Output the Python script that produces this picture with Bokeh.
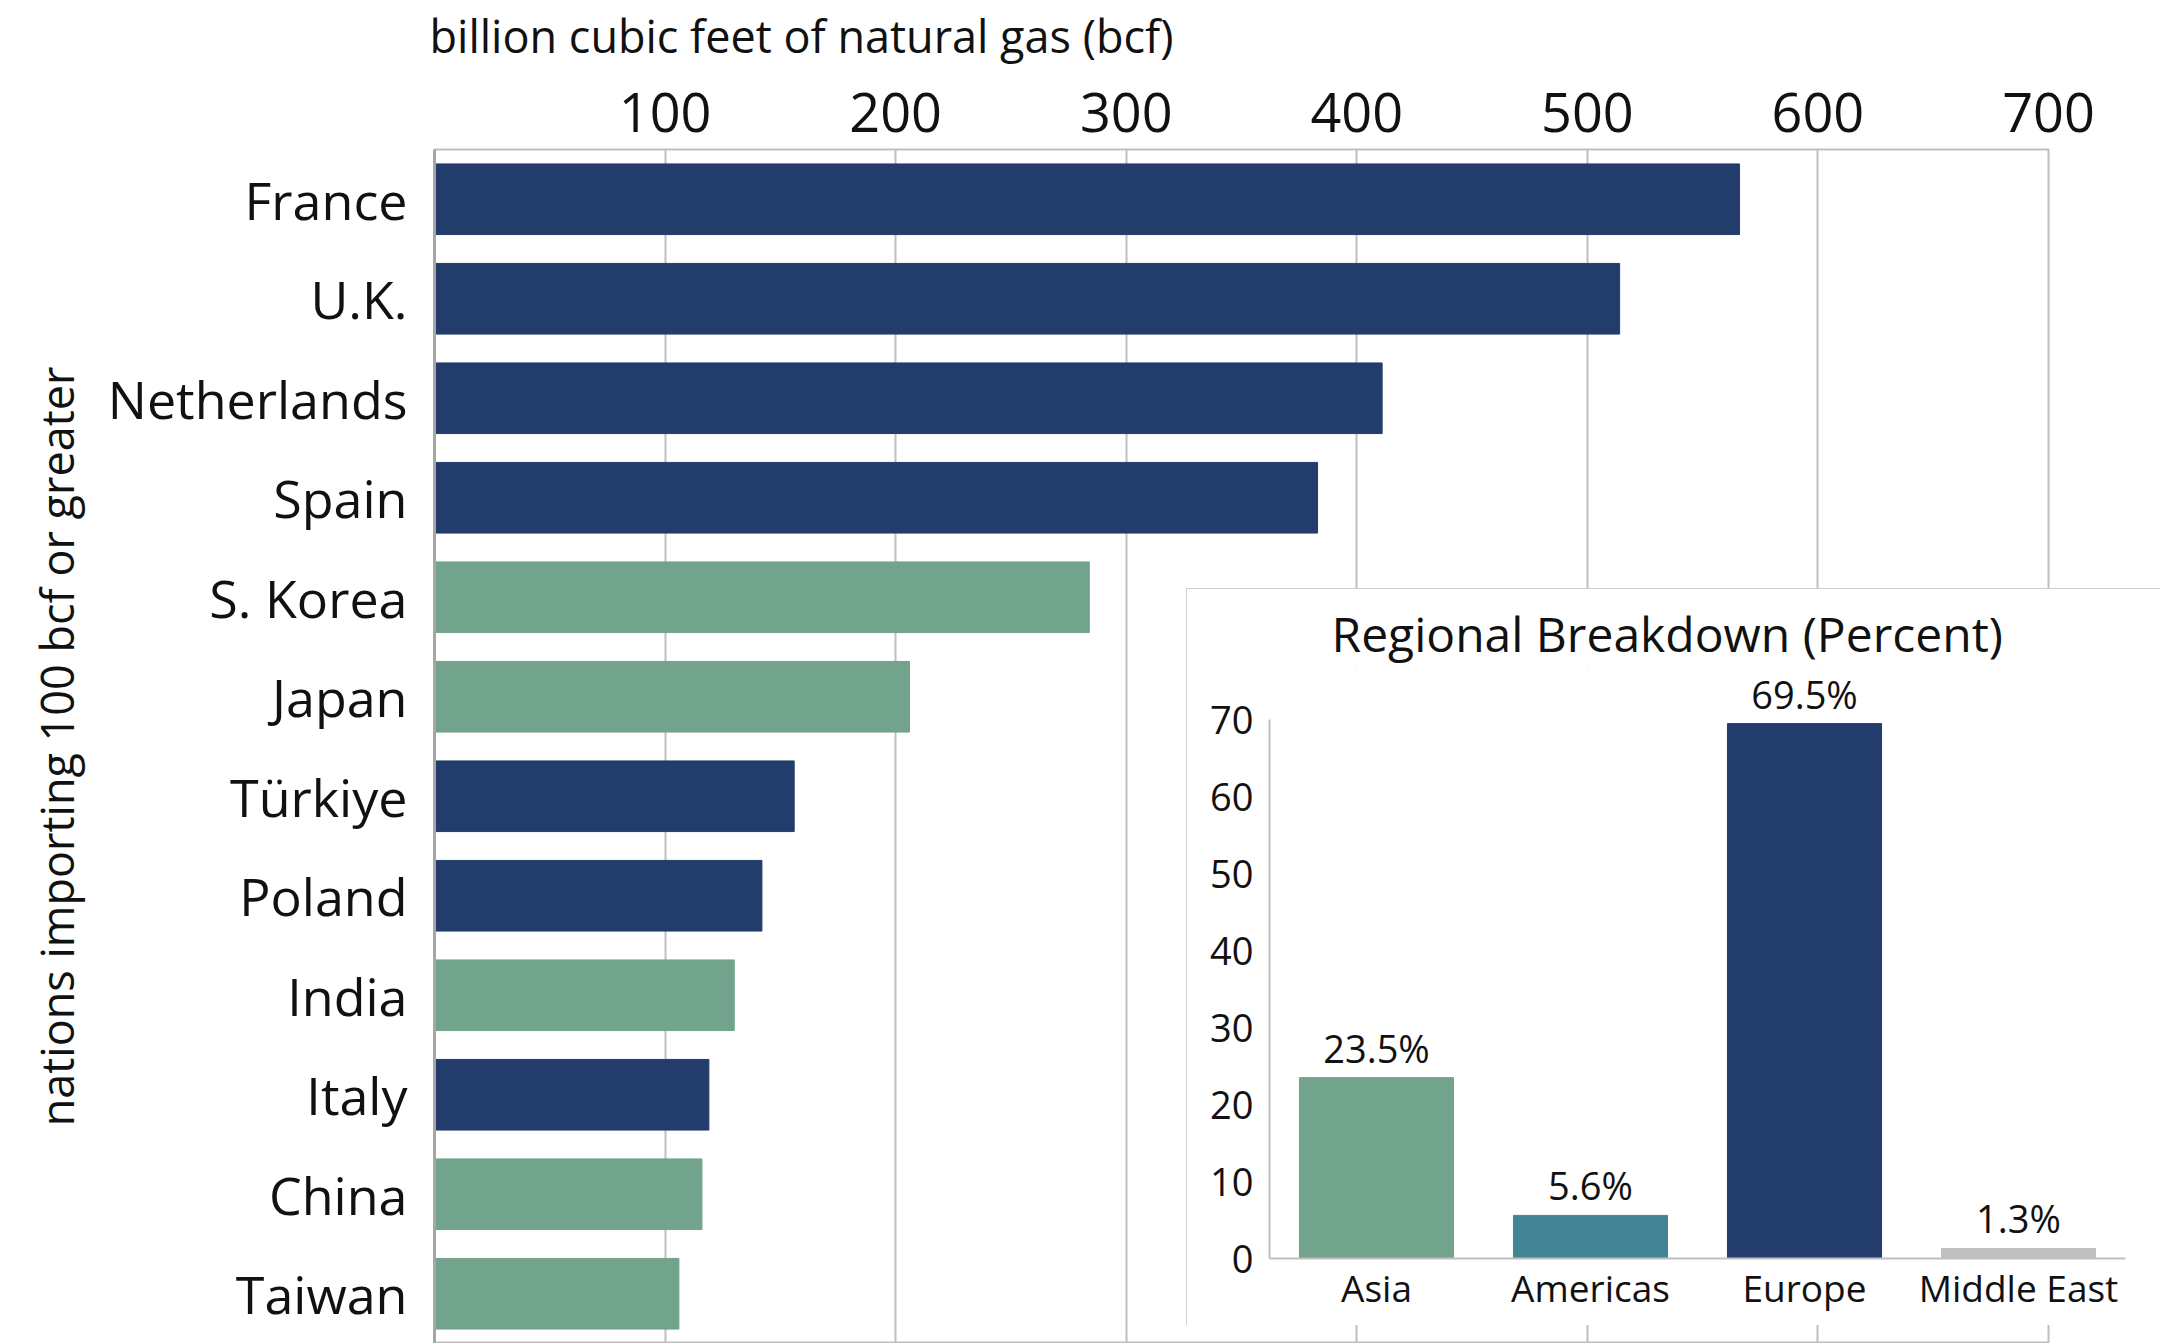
from bokeh.plotting import figure
from bokeh.models import FixedTicker, FactorRange, Range1d, ColumnDataSource, LabelSet, Label
from bokeh.layouts import column
from bokeh.embed import file_html
from bokeh.resources import INLINE
from bokeh.core.properties import value

# ---- data ----
countries = ["France", "U.K.", "Netherlands", "Spain", "S. Korea", "Japan",
             "Türkiye", "Poland", "India", "Italy", "China", "Taiwan"]
imports_bcf = [566, 514, 411, 383, 284, 206, 156, 142, 130, 119, 116, 106]
country_region = ["Europe", "Europe", "Europe", "Europe", "Asia", "Asia",
                  "Europe", "Europe", "Asia", "Europe", "Asia", "Asia"]
x_ticks = [100, 200, 300, 400, 500, 600, 700]

regions = ["Asia", "Americas", "Europe", "Middle East"]
region_share = [23.5, 5.6, 69.5, 1.3]
region_labels = ["23.5%", "5.6%", "69.5%", "1.3%"]
inset_ticks = [0, 10, 20, 30, 40, 50, 60, 70]

region_colors = {"Asia": "#72a38c", "Americas": "#438594", "Europe": "#223d6b",
                 "Middle East": "#bfbfbf"}

FONT = "Open Sans"
GRID = "#bfbfbf"
TXT = "#111111"
W, H = 2168, 1343

# ---- main chart ----
src = ColumnDataSource(dict(country=countries, value=imports_bcf,
                            color=[region_colors[r] for r in country_region]))

p = figure(width=W, height=H,
           y_range=FactorRange(factors=list(reversed(countries))),
           x_range=Range1d(0, 700), x_axis_location="above",
           output_backend="svg", toolbar_location=None,
           min_border_left=434, min_border_right=120,
           min_border_top=149, min_border_bottom=0)
p.frame_align = False
p.hbar(y="country", left=0, right="value", height=0.71, color="color", source=src)

p.outline_line_color = GRID
p.outline_line_width = 2
p.ygrid.visible = False
p.xgrid.grid_line_color = GRID
p.xgrid.grid_line_width = 2
p.xgrid.ticker = FixedTicker(ticks=x_ticks)

xa = p.xaxis[0]
xa.ticker = FixedTicker(ticks=x_ticks)
xa.axis_line_color = None
xa.major_tick_line_color = None
xa.minor_tick_line_color = None
xa.major_label_text_font = FONT
xa.major_label_text_font_size = "54px"
xa.major_label_text_color = TXT
xa.major_label_standoff = 12

ya = p.yaxis[0]
ya.axis_label = "nations importing 100 bcf or greater"
ya.axis_label_text_font = FONT
ya.axis_label_text_font_size = "45px"
ya.axis_label_text_font_style = "normal"
ya.axis_label_text_color = TXT
ya.axis_label_standoff = 18
ya.axis_line_color = "#a6a6a6"
ya.axis_line_width = 3
ya.major_tick_line_color = None
ya.minor_tick_line_color = None
ya.major_label_text_font = FONT
ya.major_label_text_font_size = "52px"
ya.major_label_text_color = TXT
ya.major_label_standoff = 21

# ---- unit caption (small transparent overlay above the top axis) ----
CAP_H = 70
cap = figure(width=900, height=CAP_H, x_range=Range1d(0, 1), y_range=Range1d(0, 1),
             x_axis_type=None, y_axis_type=None,
             output_backend="svg", toolbar_location=None,
             min_border_left=0, min_border_right=0, min_border_top=0, min_border_bottom=0)
cap.frame_align = False
cap.margin = (-H, 0, 0, 429)
cap.outline_line_color = None
cap.grid.visible = False
cap.background_fill_alpha = 0
cap.border_fill_alpha = 0
cap.add_layout(Label(x=0, y=0.5, text="billion cubic feet of natural gas (bcf)",
                     text_align="left", text_baseline="middle",
                     text_font=FONT, text_font_size="45px", text_color=TXT))

# ---- inset chart ----
isrc = ColumnDataSource(dict(region=regions, share=region_share, label=region_labels,
                             color=[region_colors[r] for r in regions]))

inset = figure(width=974, height=737,
               x_range=FactorRange(factors=regions), y_range=Range1d(0, 76.4),
               output_backend="svg", toolbar_location=None,
               min_border_left=83, min_border_right=35,
               min_border_top=82, min_border_bottom=67)
inset.frame_align = False
inset.margin = (588 - CAP_H, 0, 0, 1186)
inset.styles = {"outline": "2px solid #bfbfbf", "outline-offset": "-2px"}
inset.vbar(x="region", top="share", width=0.72, color="color", source=isrc)
inset.add_layout(LabelSet(x="region", y="share", text="label", source=isrc,
                          text_align="center", text_baseline="bottom", y_offset=4,
                          text_font=value(FONT), text_font_size=value("38px"),
                          text_color=value(TXT)))

inset.title.text = "Regional Breakdown (Percent)"
inset.title.align = "left"
inset.title.offset = 62
inset.title.text_font = FONT
inset.title.text_font_size = "48px"
inset.title.text_font_style = "normal"
inset.title.text_color = TXT
inset.title.standoff = 10

inset.outline_line_color = None
inset.grid.visible = False

iy = inset.yaxis[0]
iy.ticker = FixedTicker(ticks=inset_ticks)
iy.bounds = (0, 70)
iy.axis_line_color = GRID
iy.axis_line_width = 2
iy.major_tick_line_color = None
iy.minor_tick_line_color = None
iy.major_label_text_font = FONT
iy.major_label_text_font_size = "38px"
iy.major_label_text_color = TXT
iy.major_label_standoff = 10

ix = inset.xaxis[0]
ix.axis_line_color = GRID
ix.axis_line_width = 2
ix.major_tick_line_color = None
ix.minor_tick_line_color = None
ix.major_label_text_font = FONT
ix.major_label_text_font_size = "37px"
ix.major_label_text_color = TXT
ix.major_label_standoff = -3

layout = column(p, cap, inset)
open("out.html", "w").write(file_html(layout, INLINE))
